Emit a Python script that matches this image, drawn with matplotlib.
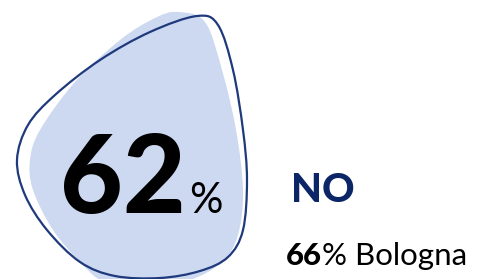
import numpy as np
import matplotlib.pyplot as plt
from matplotlib.path import Path
from matplotlib.patches import PathPatch

# data
main_value = 62
answer = "NO"
city_value = 66
city = "Bologna"

# blob outlines (pixel coords, y downwards)
fill_pts = [(178, 12), (205, 22), (222, 70), (236, 130), (243, 190), (238, 235),
            (222, 262), (190, 280), (150, 286), (105, 282), (80, 262), (53, 230),
            (33, 190), (30, 160), (40, 130), (75, 82), (120, 40), (155, 18)]
line_pts = [(197, 16), (218, 25), (233, 70), (243, 130), (247, 180), (243, 230),
            (228, 257), (200, 271), (160, 278), (115, 276), (80, 262), (47, 230),
            (25, 195), (17, 160), (28, 125), (55, 95), (100, 60), (150, 32)]


def smooth_path(pts):
    # closed catmull-rom -> cubic bezier
    p = np.array(pts, dtype=float)
    n = len(p)
    verts = [p[0]]
    codes = [Path.MOVETO]
    for i in range(n):
        p0, p1, p2, p3 = p[i - 1], p[i], p[(i + 1) % n], p[(i + 2) % n]
        c1 = p1 + (p2 - p0) / 6
        c2 = p2 - (p3 - p1) / 6
        verts += [c1, c2, p2]
        codes += [Path.CURVE4] * 3
    return Path(verts, codes)


plt.rcParams['font.family'] = ['Lato', 'DejaVu Sans']
fig = plt.figure(figsize=(4.8, 2.79), dpi=100)
ax = fig.add_axes([0, 0, 1, 1])
ax.set_xlim(0, 480)
ax.set_ylim(279, 0)
ax.axis('off')

ax.add_patch(PathPatch(smooth_path(fill_pts), facecolor='#cdd8f1', edgecolor='none'))
ax.add_patch(PathPatch(smooth_path(line_pts), facecolor='none', edgecolor='#1f3a7c', lw=1.6))

ax.text(60, 213, str(main_value), fontsize=78, fontweight='black', color='black',
        ha='left', va='baseline')
ax.text(189, 213, '%', fontsize=30, color='black', ha='left', va='baseline')

ax.text(291, 202, answer, fontsize=29, fontweight='black', color='#0b2566',
        ha='left', va='baseline')

t = ax.text(286, 265, str(city_value), fontsize=22.5, fontweight='black', color='black',
            ha='left', va='baseline')
fig.canvas.draw()
bb = t.get_window_extent(fig.canvas.get_renderer())
x_end = ax.transData.inverted().transform((bb.x1, bb.y0))[0]
ax.text(x_end, 265, '% ' + city, fontsize=22.5, color='black', ha='left', va='baseline')

fig.savefig('out.png', dpi=100)
